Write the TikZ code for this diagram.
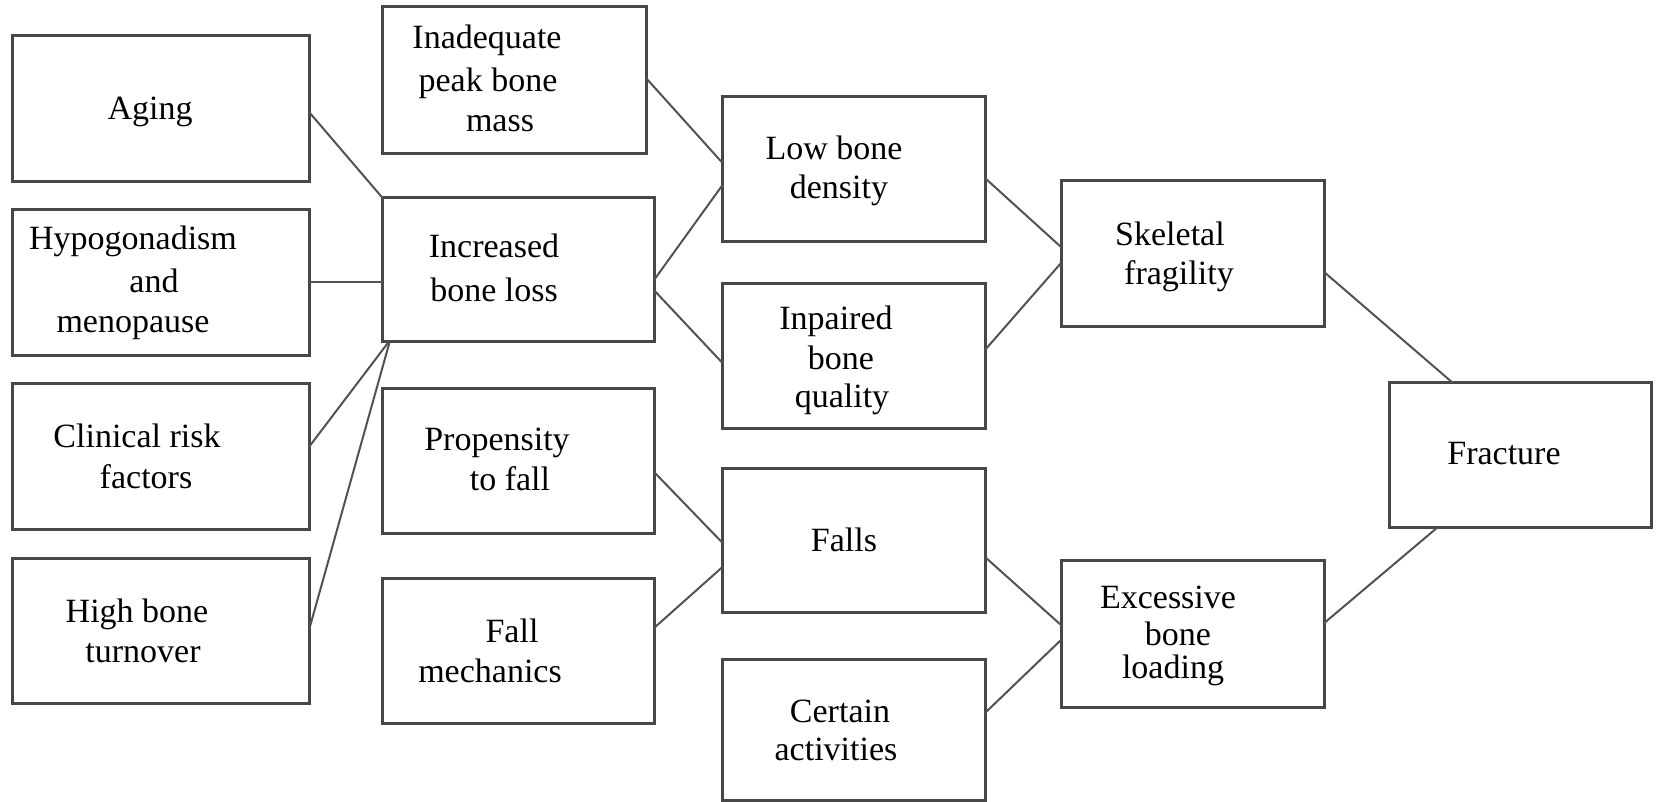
\documentclass[tikz,border=0pt]{standalone}
\usepackage{fontspec}
\setmainfont{Liberation Serif}
\usetikzlibrary{calc}
\begin{document}
\begin{tikzpicture}[x=0.5pt,y=-0.5pt,
  box/.style={draw=black!72, line width=1.5pt, rectangle, outer sep=0pt, inner sep=0pt},
  lnk/.style={draw=black!68, line width=1pt},
  txt/.style={anchor=base, inner sep=0pt, font=\fontsize{17}{20}\selectfont}]
\useasboundingbox (0,0) rectangle (1656,802);
\fill[white] (0,0) rectangle (1656,802);

% boxes
\node[box, minimum width=148.25pt, minimum height=73pt]   (aging)  at (160.75,109) {};
\node[box, minimum width=148.25pt, minimum height=73pt]   (hypo)   at (160.75,283) {};
\node[box, minimum width=148.25pt, minimum height=72.5pt] (clin)   at (160.75,456.5) {};
\node[box, minimum width=148.25pt, minimum height=72.5pt] (high)   at (160.75,630.5) {};
\node[box, minimum width=131.7pt,  minimum height=73.5pt] (inad)   at (514.3,80.5) {};
\node[box, minimum width=135.7pt,  minimum height=72pt]   (incr)   at (518.3,270) {};
\node[box, minimum width=135.7pt,  minimum height=72pt]   (prop)   at (518.3,461) {};
\node[box, minimum width=135.7pt,  minimum height=72.5pt] (fmech)  at (518.3,650.5) {};
\node[box, minimum width=131.25pt, minimum height=72.5pt] (low)    at (853.75,169.5) {};
\node[box, minimum width=131.25pt, minimum height=72.5pt] (imp)    at (853.75,356.5) {};
\node[box, minimum width=131.25pt, minimum height=72pt]   (falls)  at (853.75,540) {};
\node[box, minimum width=131.25pt, minimum height=70.5pt] (cert)   at (853.75,729.5) {};
\node[box, minimum width=131.5pt,  minimum height=73pt]   (skel)   at (1192.5,254) {};
\node[box, minimum width=131.5pt,  minimum height=73.5pt] (exc)    at (1192.5,633.5) {};
\node[box, minimum width=131pt,    minimum height=72pt]   (frac)   at (1520,455) {};

% texts
\node[txt] (t-aging) at (150,120) {Aging};
\node[txt] (t-inad1) at (487,49) {Inadequate};
\node[txt] (t-inad2) at (488,92) {peak bone};
\node[txt] (t-inad3) at (500,132) {mass};
\node[txt] (t-hypo1) at (133,250) {Hypogonadism};
\node[txt] (t-hypo2) at (154,293) {and};
\node[txt] (t-hypo3) at (133,333) {menopause};
\node[txt] (t-incr1) at (494,258) {Increased};
\node[txt] (t-incr2) at (494,302) {bone loss};
\node[txt] (t-clin1) at (137,448) {Clinical risk};
\node[txt] (t-clin2) at (146,488) {factors};
\node[txt] (t-high1) at (137,622) {High bone};
\node[txt] (t-high2) at (143,662) {turnover};
\node[txt] (t-prop1) at (497,451) {Propensity};
\node[txt] (t-prop2) at (510,490) {to fall};
\node[txt] (t-fm1) at (512,642) {Fall};
\node[txt] (t-fm2) at (490,682) {mechanics};
\node[txt] (t-low1) at (834,160) {Low bone};
\node[txt] (t-low2) at (839,199) {density};
\node[txt] (t-imp1) at (836,330) {Inpaired};
\node[txt] (t-imp2) at (841,370) {bone};
\node[txt] (t-imp3) at (842,408) {quality};
\node[txt] (t-skel1) at (1170,246) {Skeletal};
\node[txt] (t-skel2) at (1179,285) {fragility};
\node[txt] (t-frac) at (1504,465) {Fracture};
\node[txt] (t-falls) at (844,551) {Falls};
\node[txt] (t-exc1) at (1168,608) {Excessive};
\node[txt] (t-exc2) at (1178,645) {bone};
\node[txt] (t-exc3) at (1173,678) {loading};
\node[txt] (t-cert1) at (840,722) {Certain};
\node[txt] (t-cert2) at (836,760) {activities};

% connectors
\draw[lnk] ($(aging.north east)!0.52!(aging.south east)$) -- (incr.north west);
\draw[lnk] ($(hypo.north east)!0.493!(hypo.south east)$) coordinate (h1) -- (h1 -| incr.west);
\draw[lnk] ($(clin.north east)!0.434!(clin.south east)$) -- ([xshift=3pt]incr.south west);
\draw[lnk] ($(high.north east)!0.497!(high.south east)$) -- ([xshift=3.5pt]incr.south west);
\draw[lnk] ($(inad.north east)!0.483!(inad.south east)$) -- ($(low.north west)!0.455!(low.south west)$);
\draw[lnk] ($(incr.north east)!0.57!(incr.south east)$) -- ($(low.north west)!0.607!(low.south west)$);
\draw[lnk] ($(incr.north east)!0.64!(incr.south east)$) -- ($(imp.north west)!0.545!(imp.south west)$);
\draw[lnk] ($(low.north east)!0.559!(low.south east)$) -- ($(skel.north west)!0.452!(skel.south west)$);
\draw[lnk] ($(imp.north east)!0.455!(imp.south east)$) -- ($(skel.north west)!0.562!(skel.south west)$);
\draw[lnk] ($(skel.north east)!0.623!(skel.south east)$) -- ($(frac.north west)!0.244!(frac.north east)$);
\draw[lnk] ($(prop.north east)!0.576!(prop.south east)$) -- ($(falls.north west)!0.52!(falls.south west)$);
\draw[lnk] ($(fmech.north east)!0.345!(fmech.south east)$) -- ($(falls.north west)!0.6875!(falls.south west)$);
\draw[lnk] ($(falls.north east)!0.618!(falls.south east)$) -- ($(exc.north west)!0.442!(exc.south west)$);
\draw[lnk] ($(cert.north east)!0.383!(cert.south east)$) -- ($(exc.north west)!0.544!(exc.south west)$);
\draw[lnk] ($(exc.north east)!0.43!(exc.south east)$) -- ($(frac.south west)!0.187!(frac.south east)$);
\end{tikzpicture}
\end{document}
